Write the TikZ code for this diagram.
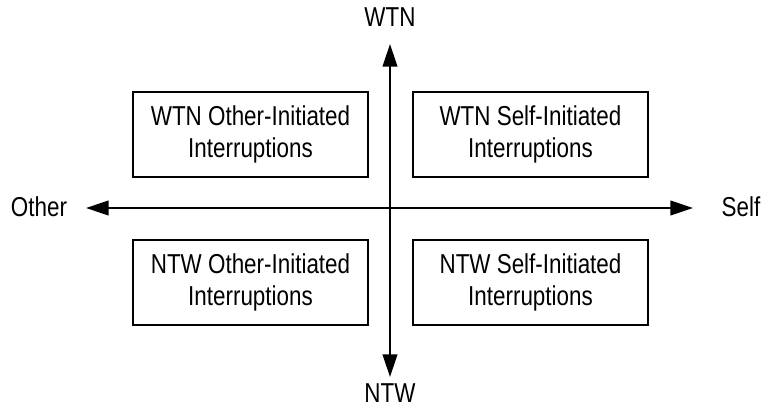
\documentclass[tikz,border=0pt]{standalone}
\usepackage{fontspec}
\setmainfont[FakeStretch=0.82]{Liberation Sans}
\usetikzlibrary{arrows.meta}
\begin{document}
\begin{tikzpicture}[x=0.75pt,y=-0.75pt,
  quad/.style={draw,line width=0.9pt,minimum width=176.25pt,minimum height=63.75pt,
    align=center,font=\fontsize{20.5}{24}\selectfont,inner sep=0pt},
  axis/.style={line width=1.5pt,-{Triangle[length=17pt,width=11pt]}},
  lbl/.style={font=\fontsize{20.5}{24}\selectfont,inner sep=0pt}]
  \useasboundingbox (0,0) rectangle (765,410);
  % quadrant boxes
  \node[quad] (wo) at (250.5,134.5) {WTN Other-Initiated\\Interruptions};
  \node[quad] (ws) at (530.5,134.5) {WTN Self-Initiated\\Interruptions};
  \node[quad] (no) at (250.5,282.5) {NTW Other-Initiated\\Interruptions};
  \node[quad] (ns) at (530.5,282.5) {NTW Self-Initiated\\Interruptions};
  % axis ends
  \coordinate (c) at (390,208);
  \coordinate (l) at (86,208);
  \coordinate (r) at (693,208);
  \coordinate (t) at (390,44);
  \coordinate (b) at (390,377);
  % axes
  \draw[axis] (c) -- (l);
  \draw[axis] (c) -- (r);
  \draw[axis] (c) -- (t);
  \draw[axis] (c) -- (b);
  % axis labels
  \node[lbl] (lo) at (39,207) {Other};
  \node[lbl] (ls) at (741,207) {Self};
  \node[lbl] (lw) at (390,17) {WTN};
  \node[lbl] (ln) at (390,393) {NTW};
\end{tikzpicture}
\end{document}
